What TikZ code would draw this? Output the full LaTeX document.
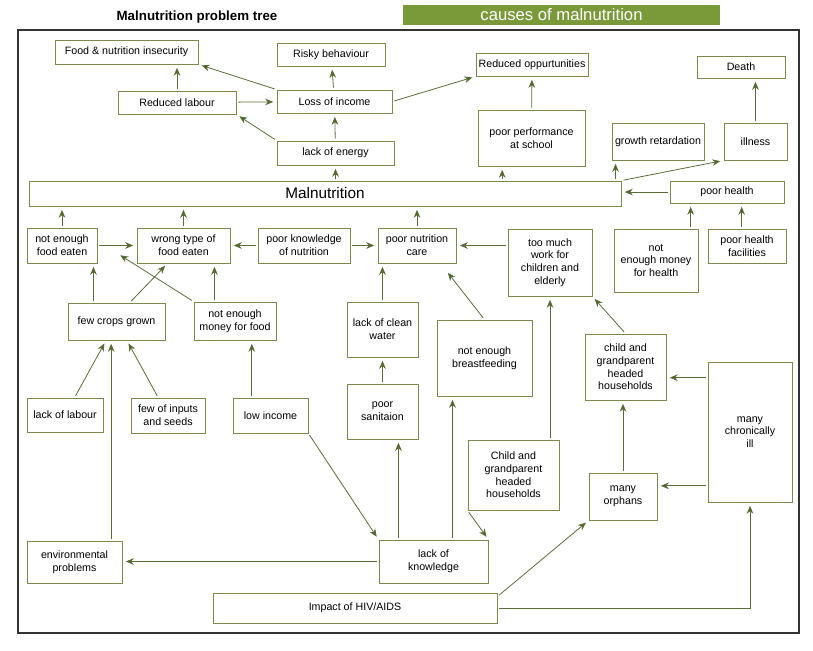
\documentclass[tikz,border=0pt]{standalone}
\usepackage{fontspec}
\setmainfont{Liberation Sans}
\usetikzlibrary{arrows.meta}
\definecolor{boxline}{HTML}{7A8A4A}
\definecolor{arrowgreen}{HTML}{4A6418}
\definecolor{banner}{HTML}{7A9A3A}
\tikzset{
	box/.style 2 args = {draw=boxline, line width=0.7pt, fill=white, align=center,
		minimum width=#1*0.75pt, minimum height=#2*0.75pt, inner sep=1pt,
		font=\fontsize{8}{9.5}\selectfont},
	arr/.style = {draw=arrowgreen!70!gray, line width=0.6pt,
		-{Stealth[length=6pt,width=5pt,fill=arrowgreen]},
		shorten >=2.5pt, shorten <=1.5pt},
}
\begin{document}
\begin{tikzpicture}[x=0.75pt, y=-0.75pt]
	\useasboundingbox (0,0) rectangle (813,650);
	
	\node[font=\bfseries\fontsize{10}{12}\selectfont] (title) at (197,17) {Malnutrition problem tree};
	\node[fill=banner, text=white, minimum width=317*0.75pt, minimum height=20*0.75pt,
		inner sep=0pt, font=\fontsize{12.5}{14}\selectfont] (causes) at (561.5,15) {causes of malnutrition};
	\draw[line width=0.8pt, black!80] (18,30) rectangle (799,633);
	
	% effects
	\node[box={143}{24}] (fni) at (126.5,52) {Food \& nutrition insecurity};
	\node[box={108}{23}] (risky) at (331,54.5) {Risky behaviour};
	\node[box={112}{23}] (redopp) at (532,64.5) {Reduced oppurtunities};
	\node[box={88}{22}] (death) at (741,67) {Death};
	\node[box={118}{23}] (redlab) at (177,102.5) {Reduced labour};
	\node[box={115}{23}] (loss) at (334.5,101.5) {Loss of income};
	\node[box={107}{56}] (perf) at (531.5,138) {poor performance\\at school};
	\node[box={92}{37}] (growth) at (658,141.5) {growth retardation};
	\node[box={63}{37}] (illness) at (755.5,141.5) {illness};
	\node[box={117}{24}] (energy) at (335.5,153) {lack of energy};
	
	% core problem
	\node[box={592}{25}, font=\fontsize{11.5}{13}\selectfont] (maln) at (325,193.5) {Malnutrition};
	\node[box={114}{22}] (phealth) at (727,192) {poor health};
	
	% causes
	\node[box={70}{35}] (nefood) at (62,245.5) {not enough\\food eaten};
	\node[box={93}{35}] (wrong) at (183.5,245.5) {wrong type of\\food eaten};
	\node[box={92}{35}] (pknow) at (304,245.5) {poor knowledge\\of nutrition};
	\node[box={78}{35}] (pcare) at (417,245.5) {poor nutrition\\care};
	\node[box={84}{67}] (work) at (550,262.5) {too much\\work for\\children and\\elderly};
	\node[box={84}{63}] (nmhealth) at (656,260.5) {not\\enough money\\for health};
	\node[box={78}{34}] (facil) at (747,246) {poor health\\facilities};
	\node[box={97}{37}] (crops) at (116.5,321.5) {few crops grown};
	\node[box={82}{38}] (nmfood) at (235,321) {not enough\\money for food};
	\node[box={71}{55}] (water) at (382.5,329.5) {lack of clean\\water};
	\node[box={95}{76}] (breast) at (484.5,358) {not enough\\breastfeeding};
	\node[box={81}{66}] (childR) at (625.5,367) {child and\\grandparent\\headed\\households};
	\node[box={84}{140}] (ill) at (750,432) {many\\chronically\\ill};
	\node[box={76}{34}] (labour) at (65,415) {lack of labour};
	\node[box={74}{35}] (inputs) at (168,415.5) {few of inputs\\and seeds};
	\node[box={75}{35}] (lowinc) at (270.5,415.5) {low income};
	\node[box={71}{55}] (sanit) at (382.5,411.5) {poor\\sanitaion};
	\node[box={91}{70}] (childM) at (513.5,475) {Child and\\grandparent\\headed\\households};
	\node[box={68}{47}] (orphans) at (623,496.5) {many\\orphans};
	\node[box={95}{42}] (env) at (74.5,562) {environmental\\problems};
	\node[box={109}{43}] (know) at (433.5,561.5) {lack of\\knowledge};
	\node[box={284}{30}] (hiv) at (355,608) {Impact of HIV/AIDS};
	
	% effects arrows
	\draw[arr] (redlab) -- (redlab |- fni.south);
	\draw[arr] (loss.north west) -- (fni.south east);
	\draw[arr] (redlab) -- (loss);
	\draw[arr] (loss) -- (risky);
	\draw[arr] (loss.east) -- (redopp.south west);
	\draw[arr] (energy) -- (loss);
	\draw[arr] (energy.north west) -- (redlab.south east);
	\draw[arr] (energy |- maln.north) -- (energy);
	\draw[arr] (perf) -- (redopp);
	\draw[arr] ([xshift=-22pt]perf.south |- maln.north) -- ([xshift=-22pt]perf.south);
	\draw[arr] ([xshift=3pt]growth.south west |- maln.north) -- ([xshift=3pt]growth.south west);
	\draw[arr] (maln.north east) -- (illness.south west);
	\draw[arr] (illness) -- (illness |- death.south);
	\draw[arr] (phealth) -- (phealth -| maln.east);
	\draw[arr] ([xshift=26pt]nmhealth.north) -- ([xshift=26pt]nmhealth.north |- phealth.south);
	\draw[arr] ([xshift=-4pt]facil.north) -- ([xshift=-4pt]facil.north |- phealth.south);
	
	% causes arrows
	\draw[arr] (nefood) -- (nefood |- maln.south);
	\draw[arr] (wrong) -- (wrong |- maln.south);
	\draw[arr] (pcare) -- (pcare |- maln.south);
	\draw[arr] (nefood) -- (wrong);
	\draw[arr] (pknow) -- (wrong);
	\draw[arr] (pknow) -- (pcare);
	\draw[arr, line width=1.2pt] (work.west |- pcare) -- (pcare.east);
	\draw[arr] ([xshift=-3pt]nefood.south east |- crops.north) -- ([xshift=-3pt]nefood.south east);
	\draw[arr] ([xshift=10pt]crops.north) -- ([xshift=-12pt]wrong.south);
	\draw[arr] (nmfood.north west) -- ([xshift=15pt,yshift=-6pt]nefood.east);
	\draw[arr] ([xshift=-12pt]wrong.south east |- nmfood.north) -- ([xshift=-12pt]wrong.south east);
	\draw[arr] (labour) -- (crops);
	\draw[arr] (inputs) -- (crops);
	\draw[arr] ([xshift=-14pt]lowinc.north) -- ([xshift=-14pt]lowinc.north |- nmfood.south);
	\draw[arr] (lowinc.south east) -- (know.north west);
	\draw[arr] (water) -- (water |- pcare.south);
	\draw[arr] (sanit) -- (sanit |- water.south);
	\draw[arr] ([xshift=12pt]sanit.south |- know.north) -- ([xshift=12pt]sanit.south);
	\draw[arr] ([xshift=-24pt]breast.south |- know.north) -- ([xshift=-24pt]breast.south);
	\draw[arr] (breast.north) -- ([xshift=-8pt,yshift=-5pt]pcare.south east);
	\draw[arr] (work.south |- childM.north) -- (work.south);
	\draw[arr] (childM.south west) -- (know.north east);
	\draw[arr] (know.west) -- (know.west -| env.east);
	\draw[arr] ([xshift=-4pt]crops.south |- env.north) -- ([xshift=-4pt]crops.south);
	\draw[arr] ([yshift=-3pt]hiv.north east) -- (orphans.south west);
	\draw[arr] (hiv.east) -| (ill.south);
	\draw[arr] (orphans) -- (orphans |- childR.south);
	\draw[arr] ([yshift=-8pt]childR -| ill.west) -- ([yshift=-8pt]childR.east);
	\draw[arr] ([yshift=8pt]orphans -| ill.west) -- ([yshift=8pt]orphans.east);
	\draw[arr] (childR.north) -- (work.south east);
\end{tikzpicture}
\end{document}
